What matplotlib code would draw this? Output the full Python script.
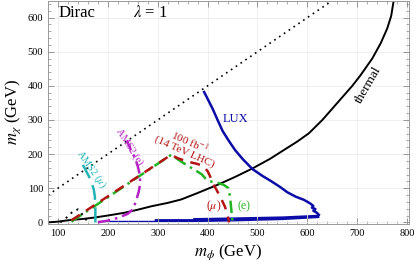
import matplotlib
matplotlib.use('Agg')
import matplotlib.pyplot as plt
import numpy as np
from matplotlib.ticker import MultipleLocator

plt.rcParams['font.family'] = ['Liberation Serif', 'DejaVu Serif']
plt.rcParams['mathtext.fontset'] = 'stix'

# diagonal m_chi = m_phi
diag_x = [80, 650]
diag_y = [80, 650]

# thermal relic curve
thermal_x = [80, 100, 120, 150, 173, 200, 233, 260, 287, 320, 347, 380, 420, 455, 490, 525,
             553, 580, 603, 630, 660, 690, 707, 730, 747, 760, 768, 773]
thermal_y = [0, 2, 6, 10, 14, 20, 28, 37, 47, 57, 67, 86, 110, 133, 158, 186,
             212, 237, 261, 300, 350, 400, 432, 480, 525, 568, 605, 650]

# LUX bound
lux_x = [393, 400, 410, 420, 430, 442, 455, 470, 490, 510, 527, 545, 560, 577, 593, 605,
         612, 609, 616, 612, 619, 623]
lux_y = [382, 362, 333, 300, 268, 240, 212, 186, 156, 136, 121, 104, 88, 75, 66, 56,
         48, 43, 39, 34, 28, 22]
lux_band_x = [180, 293, 293, 370, 370, 450, 550, 623]
lux_band_lo = [1, 1, 1, 2, 2, 4, 8, 14]
lux_band_hi = [6, 6, 11, 11, 14, 16, 19, 24]

# AMS2 (mu)
ams_mu_x = [175, 175, 174, 172, 168, 162, 155, 150]
ams_mu_y = [0, 40, 75, 95, 115, 135, 155, 168]

# AMS2 (e)
ams_e_x = [180, 200, 220, 240, 250, 256, 262, 265, 264, 260, 254, 246, 238]
ams_e_y = [0, 5, 13, 25, 38, 60, 90, 115, 140, 165, 190, 213, 240]

# LHC 14 TeV, 100 fb^-1
lhc_mu_x = [127, 327, 340, 360, 380, 392, 400, 405, 410, 418, 427, 435, 440, 443]
lhc_mu_y = [6, 198, 188, 178, 171, 164, 150, 135, 115, 95, 70, 45, 22, 0]
lhc_e_x = [127, 327, 345, 360, 375, 388, 396, 405, 420, 432, 442, 445, 447, 450]
lhc_e_y = [2, 198, 180, 166, 153, 141, 128, 120, 116, 110, 100, 75, 45, 0]

# small dotted region
dot_x = [105, 118, 130, 140, 147, 153, 158, 162]
dot_y = [0, 15, 32, 38, 27, 14, 5, 0]

blue = '#0c0ca8'
cyan = '#22b4b4'
magenta = '#b422c4'
red = '#b41414'
green = '#22b422'

fig = plt.figure(figsize=(4.17, 2.68), dpi=100)
ax = fig.add_axes([0.115, 0.164, 0.865, 0.834])

ax.plot(diag_x, diag_y, color='black', ls=(0, (1, 2.5)), lw=1.2)
ax.plot(thermal_x, thermal_y, color='black', lw=1.4)
ax.plot(lux_x, lux_y, color=blue, lw=1.8)
ax.fill_between(lux_band_x, lux_band_lo, lux_band_hi, color=blue, lw=0)
ax.plot(ams_mu_x, ams_mu_y, color=cyan, ls=(0, (6, 3)), lw=1.8)
ax.plot(ams_e_x, ams_e_y, color=magenta, ls=(0, (5, 2, 1, 2)), lw=1.8)
ax.plot(lhc_e_x, lhc_e_y, color=green, ls=(0, (5, 2, 1, 2)), lw=1.8)
ax.plot(lhc_mu_x, lhc_mu_y, color=red, ls=(0, (4, 3)), lw=1.8)
ax.plot(dot_x, dot_y, color='black', ls=(0, (1, 2.5)), lw=1.4)

ax.set_xlim(80, 803)
ax.set_ylim(-5, 650)
ax.xaxis.set_major_locator(MultipleLocator(100))
ax.xaxis.set_minor_locator(MultipleLocator(20))
ax.yaxis.set_major_locator(MultipleLocator(100))
ax.yaxis.set_minor_locator(MultipleLocator(20))
ax.tick_params(which='both', direction='in', top=True, right=True, color='#888888', labelsize=7.5)
ax.tick_params(which='major', length=4, width=0.6)
ax.tick_params(which='minor', length=2, width=0.5)
ax.grid(True, which='major', color='#ececec', lw=0.6)
for s in ax.spines.values():
    s.set_color('#999999')
    s.set_linewidth(0.7)

ax.set_xlabel(r'$m_\phi$ (GeV)', fontsize=12, labelpad=3)
ax.set_ylabel(r'$m_\chi$ (GeV)', fontsize=12, labelpad=3)

ax.text(0.03, 0.945, 'Dirac', transform=ax.transAxes, fontsize=12, va='center', ha='left')
ax.text(0.235, 0.945, r'$\lambda$ = 1', transform=ax.transAxes, fontsize=12, va='center', ha='left')

ax.text(455, 303, 'LUX', color=blue, fontsize=9, ha='center', va='center')
ax.text(723, 402, 'thermal', color='black', fontsize=9.5, rotation=60, ha='center', va='center')
ax.text(166, 157, r'AMS2 ($\mu$)', color=cyan, fontsize=7.5, rotation=-55, ha='center', va='center')
ax.text(244, 221, 'AMS2 (e)', color=magenta, fontsize=7.5, rotation=-57, ha='center', va='center')
ax.text(360, 225, '100 fb$^{-1}$\n(14 TeV LHC)', color=red, fontsize=8, rotation=-24,
        ha='center', va='center', linespacing=1.0)
ax.text(413, 48, r'($\mu$)', color=red, fontsize=8.5, ha='center', va='center')
ax.text(473, 48, '(e)', color=green, fontsize=8.5, ha='center', va='center')

fig.savefig('out.png', dpi=100)
